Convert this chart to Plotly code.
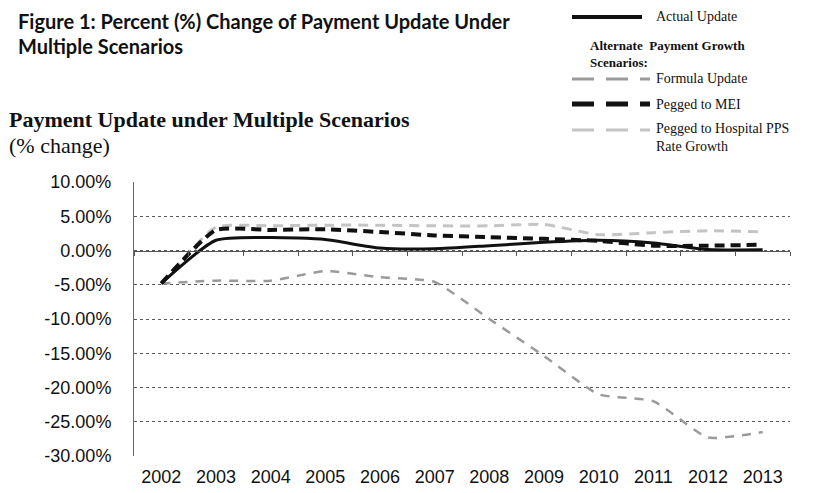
import plotly.graph_objects as go

years = ["2002", "2003", "2004", "2005", "2006", "2007", "2008", "2009", "2010", "2011", "2012", "2013"]
actual_update = [-4.8, 1.5, 1.9, 1.6, 0.35, 0.25, 0.7, 1.2, 1.5, 1.1, 0.15, 0.1]
formula_update = [-4.8, -4.4, -4.4, -3.0, -3.9, -4.6, -10.0, -15.4, -21.0, -22.0, -27.3, -26.5]
pegged_mei = [-4.8, 3.0, 3.0, 3.1, 2.7, 2.2, 1.95, 1.7, 1.4, 0.7, 0.7, 0.85]
pegged_pps = [-4.8, 3.4, 3.6, 3.7, 3.7, 3.6, 3.6, 3.8, 2.3, 2.6, 2.9, 2.7]
y_tickvals = [10, 5, 0, -5, -10, -15, -20, -25, -30]
y_ticktext = ["10.00%", "5.00%", "0.00%", "-5.00%", "-10.00%", "-15.00%", "-20.00%", "-25.00%", "-30.00%"]

OFF = 8  # page body margin
W, H = 824 - OFF, 493 - OFF
L, R, T, B = 134 - OFF, 790 - OFF, 182 - OFF, 456 - OFF


def px(x):
    return (x - OFF - L) / (R - L)


def py(y):
    return (B - (y - OFF)) / (B - T)


SANS = "Liberation Sans"

fig = go.Figure()
fig.add_trace(go.Scatter(x=years, y=pegged_pps, mode="lines", name="Pegged to Hospital PPS Rate Growth",
                         line=dict(color="#c4c4c4", width=3, dash="10px,7px", shape="spline", smoothing=0.5),
                         showlegend=False))
fig.add_trace(go.Scatter(x=years, y=formula_update, mode="lines", name="Formula Update",
                         line=dict(color="#9a9a9a", width=2.5, dash="9px,8px", shape="spline", smoothing=0.5),
                         showlegend=False))
fig.add_trace(go.Scatter(x=years, y=pegged_mei, mode="lines", name="Pegged to MEI",
                         line=dict(color="#111111", width=4, dash="10px,6px", shape="spline", smoothing=0.5),
                         showlegend=False))
fig.add_trace(go.Scatter(x=years, y=actual_update, mode="lines", name="Actual Update",
                         line=dict(color="#111111", width=3, shape="spline", smoothing=0.6),
                         showlegend=False))
# overlay axis used only for the tick marks on the zero line
fig.add_trace(go.Scatter(x=years, y=[None] * len(years), xaxis="x2", yaxis="y", showlegend=False,
                         hoverinfo="skip"))

fig.update_layout(
    width=W, height=H,
    margin=dict(l=L, r=W - R, t=T, b=H - B, autoexpand=False),
    paper_bgcolor="white", plot_bgcolor="white",
    xaxis=dict(type="category", showgrid=False, showline=False, ticks="", automargin=False,
               tickfont=dict(family=SANS, size=18, color="#111"),
               range=[-0.5, 11.5], ticklabelstandoff=8),
    xaxis2=dict(type="category", overlaying="x", anchor="free", position=30 / 40,
                showline=True, linecolor="#555", linewidth=1, ticks="outside", ticklen=4,
                tickcolor="#555", tickson="boundaries", showticklabels=False, showgrid=False,
                range=[-0.5, 11.5], side="bottom", automargin=False),
    yaxis=dict(range=[-30, 10], tickvals=y_tickvals, ticktext=y_ticktext, automargin=False,
               showgrid=True, gridcolor="#5a5a5a", gridwidth=1, griddash="dot",
               showline=True, linecolor="#6a6a6a", linewidth=1, zeroline=False,
               tickfont=dict(family=SANS, size=18, color="#111"),
               ticks="", ticklabelstandoff=18),
    font=dict(family="Liberation Serif", color="#111"),
)

anns = []
shapes = []


def text(t, x, y, size, family="Liberation Serif"):
    anns.append(dict(text=t, x=px(x), y=py(y), xref="paper", yref="paper", xanchor="left",
                     yanchor="middle", showarrow=False, align="left",
                     font=dict(family=family, size=size, color="#111")))


# Titles
text("<b>Figure 1: Percent (%) Change of Payment Update Under</b>", 16, 21, 20, "Lato")
text("<b>Multiple Scenarios</b>", 16, 46, 20, "Lato")
text("<b>Payment Update under Multiple Scenarios</b>", 7, 120, 22)
text("(% change)", 7, 145, 22)

# Legend
leg_items = [
    ("Actual Update", 17, dict(color="#111111", width=4, dash="solid"), 642),
    ("Formula Update", 79, dict(color="#9a9a9a", width=3, dash="22px,12px"), 650),
    ("Pegged to MEI", 104, dict(color="#111111", width=5, dash="22px,12px"), 650),
]
for label, yy, ln, x1 in leg_items:
    shapes.append(dict(type="line", xref="paper", yref="paper", x0=px(572), x1=px(x1),
                       y0=py(yy), y1=py(yy), line=ln))
    text(label, 654, yy, 14)
shapes.append(dict(type="line", xref="paper", yref="paper", x0=px(572), x1=px(650),
                   y0=py(130), y1=py(130), line=dict(color="#c4c4c4", width=3, dash="22px,12px")))
text("Pegged to Hospital PPS<br>Rate Growth", 654, 137, 14)
text("<b>Alternate  Payment Growth<br>Scenarios:</b>", 588, 54, 13)

fig.update_layout(annotations=anns, shapes=shapes)
fig.write_html("out.html")
